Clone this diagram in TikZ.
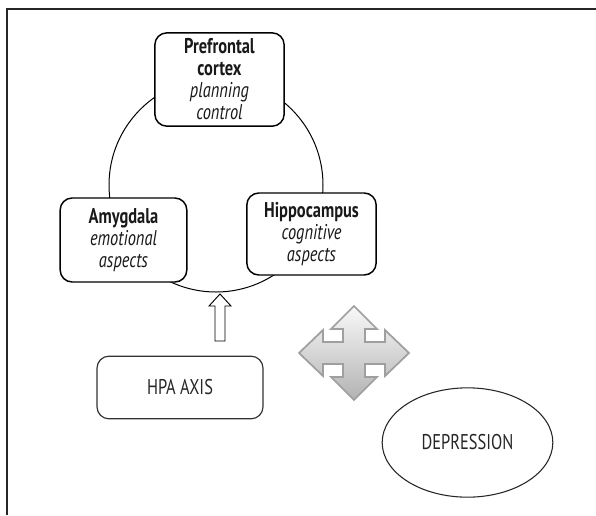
\documentclass[tikz,border=0pt]{standalone}
\usepackage{fontspec}
\setmainfont{PT Sans}[FakeStretch=0.77]
\usepackage{tikz}
\usetikzlibrary{calc}
\usetikzlibrary{shapes}
\usetikzlibrary{shapes.geometric}
\tikzset{>=latex}
\tikzstyle{region} = [rectangle, rounded corners=9pt, draw=black, line width=1.1pt, fill=white, align=center, text=black!90, font=\fontsize{16}{16.5}\selectfont]
\tikzstyle{plain} = [rectangle, rounded corners=9pt, draw=black!80, line width=0.9pt, align=center, text=black!85, font=\fontsize{16}{16.5}\selectfont]

\begin{document}
\begin{tikzpicture}[x=0.75pt, y=-0.75pt]
\useasboundingbox (0,0) rectangle (596,515);
\draw [line width=1pt, black!85] (7,515) -- (7,9) -- (596,9);
% loop of the three regions
\draw [line width=0.75pt] (216,185) circle (107);
\node [region, minimum width=97pt, minimum height=70pt] (PFC) at (219.5,79.5) {\textbf{Prefrontal}\\\textbf{cortex}\\\textit{planning}\\\textit{control}};
\node [region, minimum width=95pt, minimum height=63pt] (AMY) at (123.5,240) {\textbf{Amygdala}\\\textit{emotional}\\\textit{aspects}};
\node [region, minimum width=97pt, minimum height=61.5pt] (HIP) at (311.5,234) {\textbf{Hippocampus}\\\textit{cognitive}\\\textit{aspects}};
\node [plain, minimum width=124.5pt, minimum height=47pt] (HPA) at (180,387.5) {HPA AXIS};
\node [ellipse, draw=black!85, line width=0.8pt, minimum width=128pt, minimum height=82pt, text=black!85, font=\fontsize{16}{16.5}\selectfont] (DEP) at (467.5,442.5) {DEPRESSION};
% hollow arrow up to the loop
\draw [line width=0.7pt, fill=white] (220,294) -- (231,306) -- (225,306) -- (225,341) -- (215,341) -- (215,306) -- (209,306) -- cycle;
% four-way arrow
\draw [shift={(354,353)}, draw=gray!75, line width=1.3pt, top color=gray!5, bottom color=gray!60]
  (0,-47) -- (23,-24) -- (11,-24) -- (11,-11) -- (31,-11) -- (31,-23) -- (55,0) -- (31,23) -- (31,11) -- (11,11) -- (11,24) -- (23,24)
  -- (0,47) -- (-23,24) -- (-11,24) -- (-11,11) -- (-31,11) -- (-31,23) -- (-55,0) -- (-31,-23) -- (-31,-11) -- (-11,-11) -- (-11,-24) -- (-23,-24) -- cycle;
\end{tikzpicture}
\end{document}
